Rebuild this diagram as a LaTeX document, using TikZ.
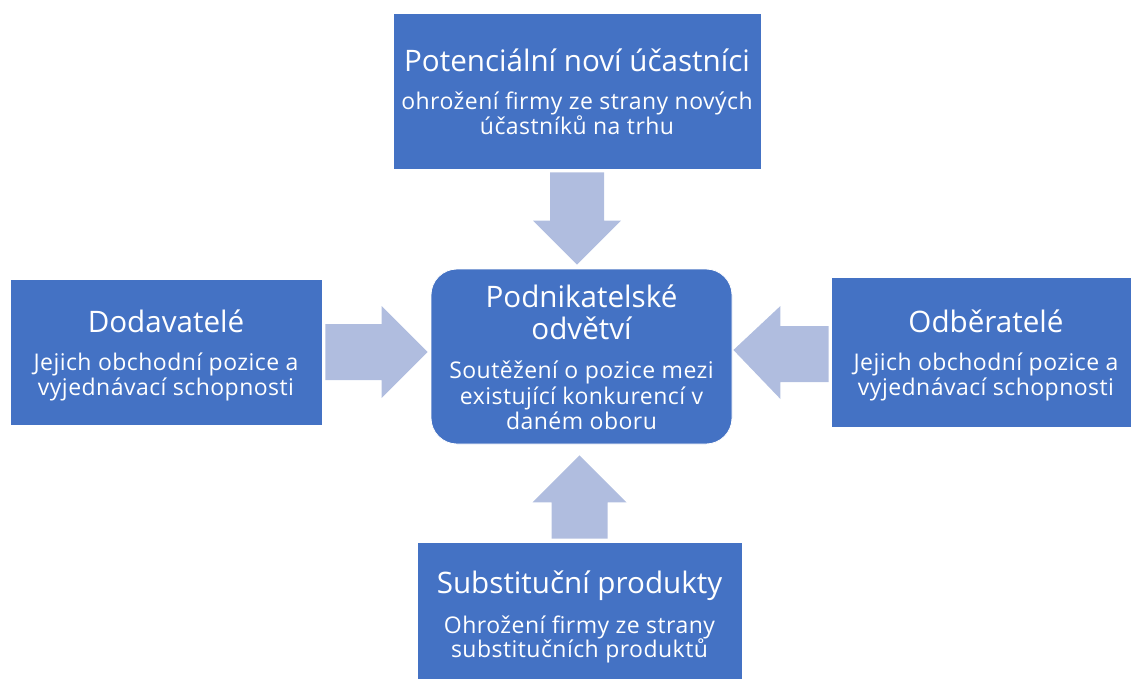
\documentclass[tikz,border=0pt]{standalone}
\usepackage{fontspec}
\setmainfont{Open Sans}
\newfontfamily\detailfont[LetterSpace=2.0]{Open Sans}
\usetikzlibrary{calc}
\definecolor{boxblue}{RGB}{68,114,196}
\definecolor{arrowfill}{RGB}{176,189,223}
\tikzset{
  panel/.style={fill=boxblue, draw=white, line width=0.8pt, inner sep=0pt},
  hub/.style={panel, rounded corners=26pt},
  blockarrow/.style={fill=arrowfill, draw=none},
  headline/.style={text=white, inner sep=0pt, anchor=base, font=\fontsize{29.6}{34}\selectfont},
  detail/.style={text=white, inner sep=0pt, anchor=base, font=\detailfont\fontsize{23}{26}\selectfont},
}
\begin{document}
\begin{tikzpicture}[x=1pt, y=-1pt]
\useasboundingbox (0,0) rectangle (1131,679);
\clip (0,0) rectangle (1131,679);

% the five blocks
\node[panel, minimum width=368pt, minimum height=156pt] (top) at (577,91) {};
\node[panel, minimum width=312pt, minimum height=146pt] (left) at (166,352) {};
\node[panel, minimum width=310pt, minimum height=150pt] (right) at (986,352) {};
\node[panel, minimum width=325pt, minimum height=150pt] (bottom) at (579.5,617) {};
\node[hub, minimum width=301pt, minimum height=175pt] (mid) at (581.5,356.5) {};

% block arrows pointing at the central block
\fill[blockarrow]
  ($(top.south)+(-27,3)$) -- ($(top.south)+(27,3)$)
  -- ($(top.south|-mid.north)+(27,-48)$) -- ($(top.south|-mid.north)+(44,-48)$)
  -- ($(top.south|-mid.north)+(0,-4)$)
  -- ($(top.south|-mid.north)+(-44,-48)$) -- ($(top.south|-mid.north)+(-27,-48)$) -- cycle;
\fill[blockarrow]
  ($(left.east)+(3,-28)$) -- ($(left.east)+(3,28)$)
  -- ($(left.east-|mid.west)+(-49,28)$) -- ($(left.east-|mid.west)+(-49,46)$)
  -- ($(left.east-|mid.west)+(-3,0)$)
  -- ($(left.east-|mid.west)+(-49,-46)$) -- ($(left.east-|mid.west)+(-49,-28)$) -- cycle;
\fill[blockarrow]
  ($(right.west)+(-2,-26)$) -- ($(right.west)+(-2,30)$)
  -- ($(right.west-|mid.east)+(48,30)$) -- ($(right.west-|mid.east)+(48,47)$)
  -- ($(right.west-|mid.east)+(1,-2)$)
  -- ($(right.west-|mid.east)+(48,-46)$) -- ($(right.west-|mid.east)+(48,-26)$) -- cycle;
\fill[blockarrow]
  ($(bottom.north)+(-28,-3)$) -- ($(bottom.north)+(28,-3)$)
  -- ($(bottom.north|-mid.south)+(28,58)$) -- ($(bottom.north|-mid.south)+(47,58)$)
  -- ($(bottom.north|-mid.south)+(0,11)$)
  -- ($(bottom.north|-mid.south)+(-47,58)$) -- ($(bottom.north|-mid.south)+(-28,58)$) -- cycle;

% texts
\node[headline] (topA) at (577,72) {Potenciální noví účastníci};
\node[detail] (topB) at (577,110) {ohrožení firmy ze strany nových};
\node[detail] (topC) at (577,135) {účastníků na trhu};

\node[headline] (midA) at (581.5,307) {Podnikatelské};
\node[headline] (midB) at (581.5,339) {odvětví};
\node[detail] (midC) at (581.5,378) {Soutěžení o pozice mezi};
\node[detail] (midD) at (581.5,404) {existující konkurencí v};
\node[detail] (midE) at (581.5,429) {daném oboru};

\node[headline] (leftA) at (166,332) {Dodavatelé};
\node[detail] (leftB) at (166,370) {Jejich obchodní pozice a};
\node[detail] (leftC) at (166,395) {vyjednávací schopnosti};

\node[headline] (rightA) at (986,332) {Odběratelé};
\node[detail] (rightB) at (986,370) {Jejich obchodní pozice a};
\node[detail] (rightC) at (986,395) {vyjednávací schopnosti};

\node[headline] (bottomA) at (579.5,593) {Substituční produkty};
\node[detail] (bottomB) at (579.5,633) {Ohrožení firmy ze strany};
\node[detail] (bottomC) at (579.5,657) {substitučních produktů};
\end{tikzpicture}
\end{document}
